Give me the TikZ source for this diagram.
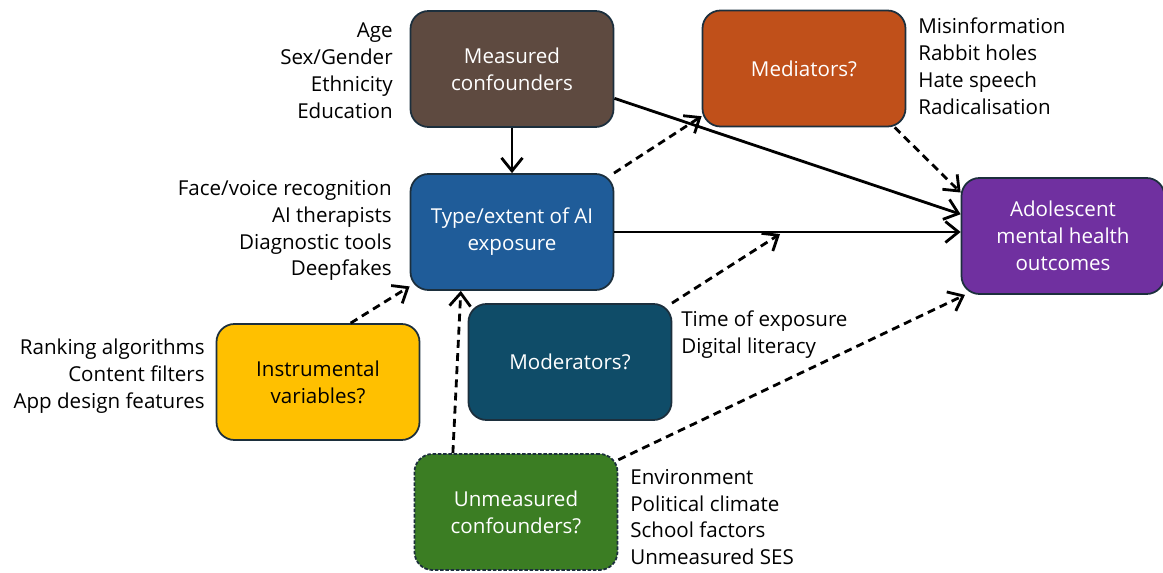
\documentclass[tikz,border=0pt]{standalone}
\usepackage{fontspec}
\setmainfont{Open Sans}
\usetikzlibrary{arrows.meta}

\definecolor{measuredbrown}{HTML}{5E4A40}
\definecolor{mediatororange}{HTML}{C0501A}
\definecolor{exposureblue}{HTML}{1F5C99}
\definecolor{outcomepurple}{HTML}{7030A0}
\definecolor{moderatorteal}{HTML}{0F4C68}
\definecolor{instrumentyellow}{HTML}{FFC000}
\definecolor{unmeasuredgreen}{HTML}{3B7D23}
\definecolor{boxedge}{HTML}{1C2F3D}

\begin{document}
\begin{tikzpicture}
  [font=\fontsize{11.7}{15.3}\selectfont,
  box/.style={rectangle,rounded corners=0.36cm,draw=boxedge,line width=1pt,
    minimum width=4.06cm,minimum height=2.32cm,inner sep=2pt,align=center,text=white},
  lefttext/.style={anchor=east,align=right,inner sep=0pt},
  righttext/.style={anchor=west,align=left,inner sep=0pt},
  solidarrow/.style={-{Straight Barb[length=2.6mm,width=4.2mm]},line width=1.6pt},
  dashedarrow/.style={solidarrow,dash pattern=on 4.5pt off 3pt}]
  \useasboundingbox (0,0) rectangle (23.26,11.46);

  \node[box,fill=measuredbrown] (measured) at (10.24,10.08) {Measured\\confounders};
  \node[box,fill=mediatororange] (mediators) at (16.08,10.09) {Mediators?};
  \node[box,fill=exposureblue] (exposure) at (10.24,6.82) {Type/extent of AI\\exposure};
  \node[box,fill=outcomepurple] (outcome) at (21.26,6.74) {Adolescent\\mental health\\outcomes};
  \node[box,fill=moderatorteal] (moderators) at (11.40,4.22) {Moderators?};
  \node[box,fill=instrumentyellow,text=black] (instrument) at (6.36,3.82) {Instrumental\\variables?};
  \node[box,fill=unmeasuredgreen,dash pattern=on 2pt off 1pt] (unmeasured) at (10.32,1.22) {Unmeasured\\confounders?};

  \node[lefttext] (measuredlist) at (7.86,10.05) {Age\\Sex/Gender\\Ethnicity\\Education};
  \node[righttext] (mediatorlist) at (18.36,10.14) {Misinformation\\Rabbit holes\\Hate speech\\Radicalisation};
  \node[lefttext] (exposurelist) at (7.84,6.85) {Face/voice recognition\\AI therapists\\Diagnostic tools\\Deepfakes};
  \node[righttext] (moderatorlist) at (13.62,4.77) {Time of exposure\\Digital literacy};
  \node[lefttext] (instrumentlist) at (4.10,3.94) {Ranking algorithms\\Content filters\\App design features};
  \node[righttext] (unmeasuredlist) at (12.60,1.12) {Environment\\Political climate\\School factors\\Unmeasured SES};

  \coordinate (modtarget) at (15.6,6.78);

  \draw [solidarrow] (measured.south) -- (exposure.north);
  \draw [solidarrow] (measured.-16) -- (outcome.168);
  \draw [solidarrow] (exposure.east) -- (exposure.east -| outcome.west);

  \draw [dashedarrow] (exposure.30) -- (mediators.205);
  \draw [dashedarrow] (mediators.-33) -- (outcome.157);
  \draw [dashedarrow] (moderators.30) -- (modtarget);
  \draw [dashedarrow] (instrument.61) -- (exposure.208);
  \draw [dashedarrow] (unmeasured.137) -- (exposure.229);
  \draw [dashedarrow] (unmeasured.27) -- (outcome.211);
\end{tikzpicture}
\end{document}
